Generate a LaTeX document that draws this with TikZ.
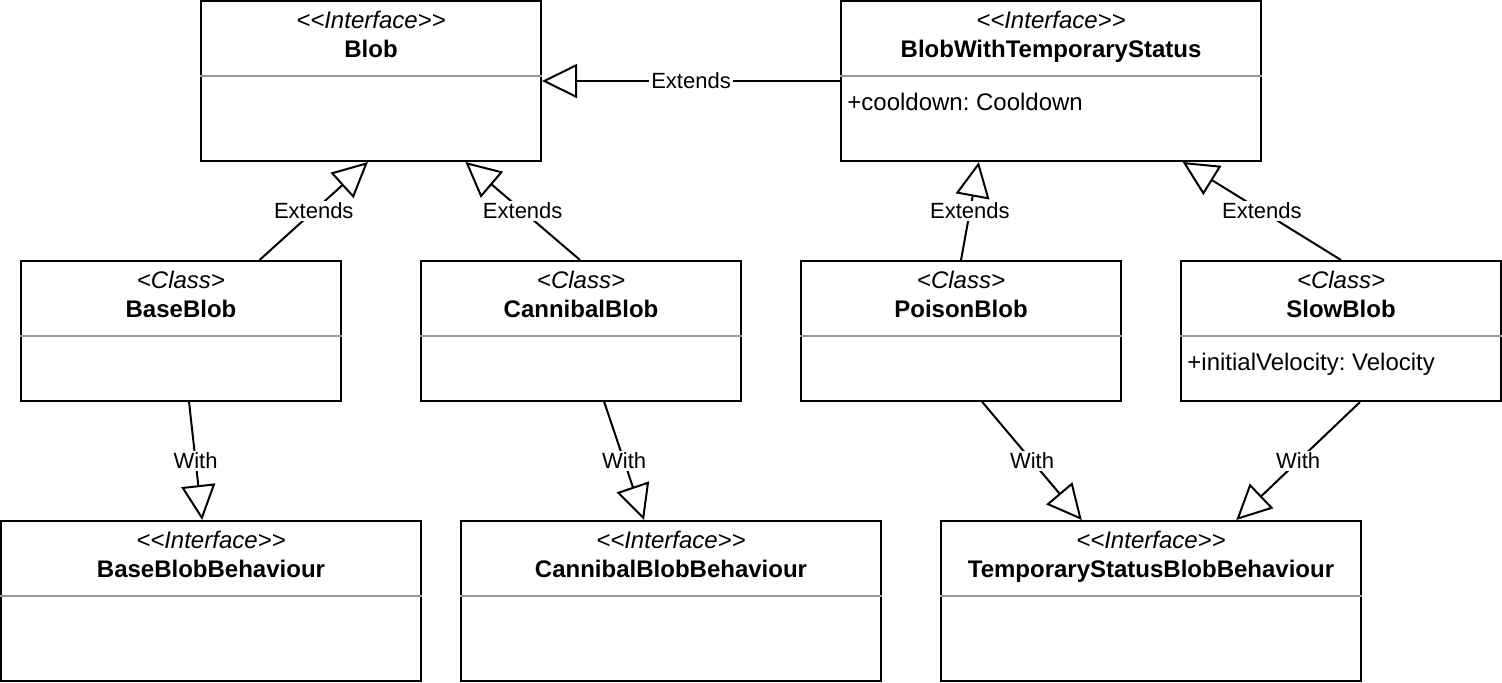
\documentclass[tikz,border=0pt]{standalone}
\usepackage{fontspec}
\setmainfont{Liberation Sans}
\usetikzlibrary{arrows.meta, calc}
\frenchspacing
\definecolor{sepgray}{HTML}{999999}
\newcommand{\ifacetag}{<{}<Interface>{}>}
\newcommand{\classtag}{<Class>}
\tikzset{
    umlbox/.style={draw, rectangle, line width=1pt, inner sep=0pt},
    sepline/.style={draw=sepgray, line width=1pt},
    boxtext/.style={inner sep=0pt, font=\fontsize{12}{14}\selectfont},
    rel/.style={line width=1pt, -{Triangle[open, length=17.5pt, width=17pt]}},
    edgelabel/.style={fill=white, inner sep=1pt, font=\fontsize{11}{13}\selectfont}
}

\begin{document}
\begin{tikzpicture}[x=0.5pt, y=-0.5pt]
    \useasboundingbox (0,0) rectangle (1502,682);

    % Boxes: name / centre / size / stereotype / title
    \foreach \n/\x/\y/\w/\h/\st/\nm in {
        blob/371/81/340/160/\ifacetag/Blob,
        bwts/1051/81/420/160/\ifacetag/BlobWithTemporaryStatus,
        baseblob/181/331/320/140/\classtag/BaseBlob,
        cannibal/581/331/320/140/\classtag/CannibalBlob,
        poison/961/331/320/140/\classtag/PoisonBlob,
        slowblob/1341/331/320/140/\classtag/SlowBlob,
        basebeh/211/601/420/160/\ifacetag/BaseBlobBehaviour,
        cannibalbeh/671/601/420/160/\ifacetag/CannibalBlobBehaviour,
        tempbeh/1151/601/420/160/\ifacetag/TemporaryStatusBlobBehaviour} {
        \node[umlbox, minimum width=\w*0.5pt, minimum height=\h*0.5pt] (\n) at (\x,\y) {};
        \draw[sepline] ($(\n.north west)+(0,76)$) -- ($(\n.north east)+(0,76)$);
        \node[boxtext, anchor=base] (\n-st) at ($(\n.north)+(0,28.5)$) {\itshape\st};
        \node[boxtext, anchor=base] (\n-nm) at ($(\n.north)+(0,57)$) {\bfseries\nm};
    }

    % Attributes
    \node[boxtext, anchor=base west] (bwts-attr) at ($(bwts.north west)+(7,110.5)$) {+cooldown: Cooldown};
    \node[boxtext, anchor=base west] (slowblob-attr) at ($(slowblob.north west)+(7,110.5)$) {+initialVelocity: Velocity};

    % Extends
    \draw[rel] (bwts.west) -- node[edgelabel] (ext-bwts) {Extends} (blob.east);
    \draw[rel] ($(baseblob.north west)!0.744!(baseblob.north east)$) -- node[edgelabel] (ext-base) {Extends}
        ($(blob.south west)!0.491!(blob.south east)$);
    \draw[rel] ($(cannibal.north west)!0.497!(cannibal.north east)$) -- node[edgelabel] (ext-cannibal) {Extends}
        ($(blob.south west)!0.776!(blob.south east)$);
    \draw[rel] (poison.north) -- node[edgelabel] (ext-poison) {Extends}
        ($(bwts.south west)!0.329!(bwts.south east)$);
    \draw[rel] (slowblob.north) -- node[edgelabel] (ext-slow) {Extends}
        ($(bwts.south west)!0.812!(bwts.south east)$);

    % With
    \draw[rel] ($(baseblob.south west)!0.525!(baseblob.south east)$) -- node[edgelabel] (with-base) {With}
        ($(basebeh.north west)!0.479!(basebeh.north east)$);
    \draw[rel] ($(cannibal.south west)!0.572!(cannibal.south east)$) -- node[edgelabel] (with-cannibal) {With}
        ($(cannibalbeh.north west)!0.436!(cannibalbeh.north east)$);
    \draw[rel] ($(poison.south west)!0.566!(poison.south east)$) -- node[edgelabel] (with-poison) {With}
        ($(tempbeh.north west)!0.336!(tempbeh.north east)$);
    \draw[rel] ($(slowblob.south west)!0.559!(slowblob.south east)$) -- node[edgelabel] (with-slow) {With}
        ($(tempbeh.north west)!0.702!(tempbeh.north east)$);
\end{tikzpicture}
\end{document}
